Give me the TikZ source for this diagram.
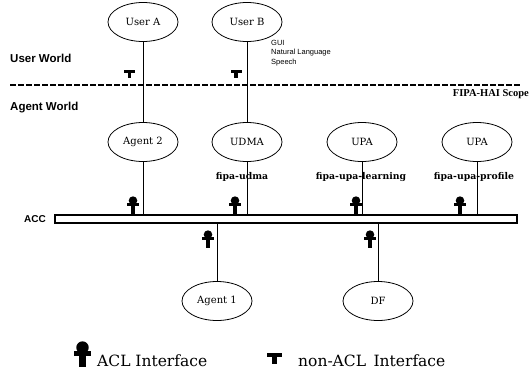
\documentclass[tikz,border=0pt]{standalone}
\usepackage{fontspec}
\setmainfont{DejaVu Serif}
\newfontfamily\lsans{Liberation Sans}
\newfontfamily\dserif{DejaVu Serif}
\newfontfamily\tserif{Liberation Serif}
\usetikzlibrary{shapes.geometric}
\tikzset{
  agentel/.style={draw, ellipse, line width=0.8pt, minimum width=70pt, minimum height=39pt, inner sep=0pt,
    font=\dserif\fontsize{10}{12}\selectfont},
  worldlbl/.style={anchor=west, inner sep=0pt, font=\lsans\bfseries\fontsize{11.5}{13}\selectfont},
  ontlbl/.style={inner sep=0.5pt, font=\dserif\bfseries\fontsize{9.3}{11}\selectfont},
  medialbl/.style={anchor=west, inner sep=0pt, font=\lsans\fontsize{7.5}{9}\selectfont},
  legendlbl/.style={anchor=base west, inner sep=0pt, font=\dserif\fontsize{15.5}{18}\selectfont},
  conn/.style={line width=0.8pt},
  scopeline/.style={line width=1.3pt, dash pattern=on 5.5pt off 2.5pt},
  busbar/.style={draw, rectangle, line width=1.7pt, minimum width=462pt, minimum height=8pt, inner sep=0pt},
  aclif/.pic={
    \fill (0,-13.4) circle (4.3pt);
    \fill (-6,-10.8) rectangle (6,-7.8);
    \fill (-2.1,-8) rectangle (2.1,0);
  },
  nonaclif/.pic={
    \fill (-5.5,-8) rectangle (5.5,-5.2);
    \fill (-1.9,-5.3) rectangle (1.9,0);
  }
}
\begin{document}
\begin{tikzpicture}[x=1pt, y=-1pt]
\useasboundingbox (0,0) rectangle (529,372);

% user world
\node[agentel] (userA) at (143,22) {User A};
\node[agentel] (userB) at (247,22) {User B};
\node[worldlbl] (uw) at (10,58) {User World};
\node[worldlbl] (aw) at (10,108) {Agent World};
\node[medialbl] (gui) at (271,43) {GUI};
\node[medialbl] (nl) at (271,53) {Natural Language};
\node[medialbl] (sp) at (271,63) {Speech};

% scope line
\coordinate (scL) at (10,85);
\coordinate (scR) at (520,85);
\draw[scopeline] (scL) -- (scR);
\node[anchor=east, inner sep=0pt, font=\tserif\bfseries\fontsize{10.5}{12}\selectfont] (scope) at (529,94) {FIPA-HAI Scope};

% agents
\node[agentel] (agent2) at (143,142) {Agent 2};
\node[agentel] (udma) at (247,142) {UDMA};
\node[agentel] (upa1) at (362,142) {UPA};
\node[agentel] (upa2) at (477,142) {UPA};

% bus
\node[busbar] (bus) at (286,219) {};
\node[anchor=west, inner sep=0pt, font=\lsans\bfseries\fontsize{10}{12}\selectfont] (acc) at (24,219) {ACC};

% lower agents
\node[agentel] (agent1) at (217,301) {Agent 1};
\node[agentel] (df) at (378,301) {DF};

% connectors
\draw[conn] (userA) -- (agent2);
\draw[conn] (userB) -- (udma);
\draw[conn] (agent2.south) -- (agent2.south |- bus.north);
\draw[conn] (udma.south) -- (udma.south |- bus.north);
\draw[conn] (upa1.south) -- (upa1.south |- bus.north);
\draw[conn] (upa2.south) -- (upa2.south |- bus.north);
\draw[conn] (bus.south -| agent1.north) -- (agent1.north);
\draw[conn] (bus.south -| df.north) -- (df.north);

% ontology labels
\node[ontlbl] (o1) at (242,177) {fipa-udma};
\node[ontlbl] (o2) at (361,177) {fipa-upa-learning};
\node[ontlbl] (o3) at (474,177) {fipa-upa-profile};

% interfaces
\pic at (129.5,78) {nonaclif};
\pic at (236,78) {nonaclif};
\pic at (133,214) {aclif};
\pic at (235,214) {aclif};
\pic at (356,214) {aclif};
\pic at (460,214) {aclif};
\pic at (208,248) {aclif};
\pic at (370,248) {aclif};

% legend
\pic[scale=1.45] at (82.5,367) {aclif};
\node[legendlbl] (l1) at (97,366) {ACL Interface};
\pic[scale=1.35] at (274.5,364) {nonaclif};
\node[legendlbl] (l2) at (298,366) {non-ACL\, Interface};
\end{tikzpicture}
\end{document}
